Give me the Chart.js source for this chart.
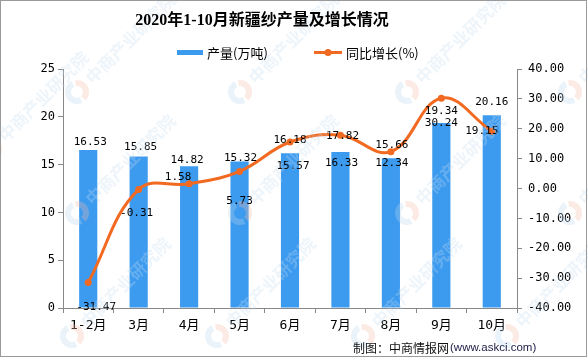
<!DOCTYPE html>
<html>
<head>
<meta charset="utf-8">
<script src="https://cdn.jsdelivr.net/npm/chart.js@4.4.1/dist/chart.umd.min.js"></script>
<style>
  html, body { margin: 0; padding: 0; background: #fff; }
  #wrap { width: 588px; height: 359px; position: relative; }
</style>
</head>
<body>
<div id="wrap"><canvas id="yarnChart" width="588" height="359"></canvas></div>
<script>
// data
const months = ['1-2月', '3月', '4月', '5月', '6月', '7月', '8月', '9月', '10月'];
const output = [16.53, 15.85, 14.82, 15.32, 16.18, 16.33, 15.66, 19.34, 20.16];   // 产量(万吨)
const growth = [-31.47, -0.31, 1.58, 5.73, 15.57, 17.82, 12.34, 30.24, 19.15];  // 同比增长(%)
const leftTicks = [0, 5, 10, 15, 20, 25];
const rightTicks = [-40, -30, -20, -10, 0, 10, 20, 30, 40];

// where each data label sits relative to its mark (dx, dy in px)
const barLabelShift = [[2, -8], [2, -9], [-2, -6], [1, -3], [0, -13], [1, 11], [1, -13], [0, -12], [0, -13]];
const lineLabelShift = [[8, 25], [-2, 24], [-11, -7], [0, 30], [3, 24], [2, 1], [1, 12], [0, 25], [-10, 0]];

const BLUE = '#3d9bef';
const ORANGE = '#f26a21';
const AXIS = '#888888';
const tickFont = { family: '"DejaVu Sans Mono", "Noto Sans CJK SC"', size: 12 };

// STEP 1: labels on bars and points
const valueLabels = {
    id: 'valueLabels',
    afterDatasetsDraw(chart) {
        const ctx = chart.ctx;
        ctx.save();
        ctx.font = '11px "DejaVu Sans Mono"';
        ctx.fillStyle = '#000';
        ctx.textAlign = 'center';
        ctx.textBaseline = 'middle';
        chart.getDatasetMeta(0).data.forEach((bar, i) => {
            ctx.fillText(output[i].toFixed(2), bar.x + barLabelShift[i][0], bar.y + barLabelShift[i][1]);
        });
        chart.getDatasetMeta(1).data.forEach((pt, i) => {
            ctx.fillText(growth[i].toFixed(2), pt.x + lineLabelShift[i][0], pt.y + lineLabelShift[i][1]);
        });
        ctx.restore();
    }
};

// STEP 2: title, legend, credit, frame and watermark
const decor = {
    id: 'decor',
    beforeDraw(chart) {
        const ctx = chart.ctx;
        ctx.save();
        ctx.fillStyle = '#fff';
        ctx.fillRect(0, 0, chart.width, chart.height);
        ctx.restore();
    },
    afterDraw(chart) {
        const ctx = chart.ctx;
        ctx.save();

        // watermark
        const marks = [[77, 92], [240, 92], [407, 92], [570, 92], [77, 213], [240, 213], [407, 213], [570, 213],
                       [72, 336], [217, 336], [363, 336], [507, 336], [-10, 150], [160, -20], [325, -20], [490, -20]];
        marks.forEach(([x, y]) => {
            ctx.save();
            ctx.translate(x, y);
            ctx.globalAlpha = 0.3;
            ctx.lineWidth = 6;
            ctx.strokeStyle = '#bcd7ee';
            ctx.beginPath();
            ctx.arc(0, 0, 9, Math.PI * 0.35, Math.PI * 1.35);
            ctx.stroke();
            ctx.strokeStyle = '#f5b9a4';
            ctx.beginPath();
            ctx.arc(0, 0, 9, Math.PI * 1.45, Math.PI * 0.25);
            ctx.stroke();
            ctx.rotate(-Math.PI / 4);
            ctx.fillStyle = '#c4dcf0';
            ctx.font = 'bold 17px "Noto Sans CJK SC"';
            ctx.textBaseline = 'middle';
            ctx.fillText('中商产业研究院', 16, 0);
            ctx.restore();
        });

        // frame
        ctx.strokeStyle = '#9a9a9a';
        ctx.lineWidth = 1;
        ctx.strokeRect(0.5, 0.5, 586, 356);

        // title
        ctx.fillStyle = '#000';
        ctx.textAlign = 'center';
        ctx.textBaseline = 'middle';
        ctx.font = 'bold 16px "Liberation Serif", "Noto Sans CJK SC"';
        ctx.fillText('2020年1-10月新疆纱产量及增长情况', 262, 21);

        // legend
        ctx.textAlign = 'left';
        ctx.font = '13px "Noto Sans CJK SC"';
        ctx.fillStyle = BLUE;
        ctx.fillRect(177, 50, 26, 5);
        ctx.fillStyle = '#000';
        ctx.fillText('产量(万吨)', 207, 53);
        ctx.strokeStyle = ORANGE;
        ctx.lineWidth = 3;
        ctx.beginPath();
        ctx.moveTo(314, 52.5);
        ctx.lineTo(342, 52.5);
        ctx.stroke();
        ctx.fillStyle = ORANGE;
        ctx.beginPath();
        ctx.arc(328, 52.5, 3.5, 0, Math.PI * 2);
        ctx.fill();
        ctx.fillStyle = '#000';
        ctx.fillText('同比增长(%)', 346, 53);

        // credit
        ctx.font = '12px "Noto Sans CJK SC"';
        ctx.fillStyle = '#111';
        ctx.fillText('制图：中商情报网', 353, 348);
        ctx.font = '11.5px "Liberation Sans"';
        ctx.fillStyle = '#1c1c48';
        ctx.fillText('(www.askci.com)', 450, 348);

        ctx.restore();
    }
};

// STEP 3: the chart
const ctx = document.getElementById('yarnChart').getContext('2d');

new Chart(ctx, {
    type: 'bar',
    data: {
        labels: months,
        datasets: [{
            type: 'bar',
            label: '产量(万吨)',
            data: output,
            yAxisID: 'yLeft',
            backgroundColor: BLUE,
            barPercentage: 0.36,
            categoryPercentage: 1,
            order: 1
        }, {
            type: 'line',
            label: '同比增长(%)',
            data: growth,
            yAxisID: 'yRight',
            borderColor: ORANGE,
            backgroundColor: ORANGE,
            borderWidth: 3,
            pointRadius: 3.5,
            pointBackgroundColor: ORANGE,
            pointBorderWidth: 0,
            tension: 0.4,
            order: 0
        }]
    },
    options: {
        responsive: false,
        animation: false,
        layout: { padding: { top: 69, left: 0, right: 0, bottom: 0 } },
        plugins: {
            legend: { display: false },
            title: { display: false },
            tooltip: { enabled: false }
        },
        scales: {
            x: {
                offset: true,
                grid: { offset: true, drawOnChartArea: false, drawTicks: true, tickLength: 5, color: AXIS },
                border: { color: AXIS },
                ticks: { color: '#000', font: { family: '"DejaVu Sans Mono", "Noto Sans CJK SC"', size: 13 }, padding: 5 },
                afterFit(scale) { scale.height = 51; }
            },
            yLeft: {
                position: 'left',
                min: leftTicks[0],
                max: leftTicks[leftTicks.length - 1],
                afterBuildTicks(scale) { scale.ticks = leftTicks.map(v => ({ value: v })); },
                grid: { drawOnChartArea: false, tickLength: 5, color: AXIS },
                border: { color: AXIS },
                ticks: { color: '#000', font: tickFont, padding: 3 },
                afterFit(scale) { scale.width = 63; }
            },
            yRight: {
                position: 'right',
                min: rightTicks[0],
                max: rightTicks[rightTicks.length - 1],
                afterBuildTicks(scale) { scale.ticks = rightTicks.map(v => ({ value: v })); },
                grid: { drawOnChartArea: false, tickLength: 5, color: AXIS },
                border: { color: AXIS },
                ticks: { color: '#000', font: tickFont, padding: 6, callback: v => v.toFixed(2) },
                afterFit(scale) { scale.width = 71; }
            }
        }
    },
    plugins: [decor, valueLabels]
});
</script>
</body>
</html>
